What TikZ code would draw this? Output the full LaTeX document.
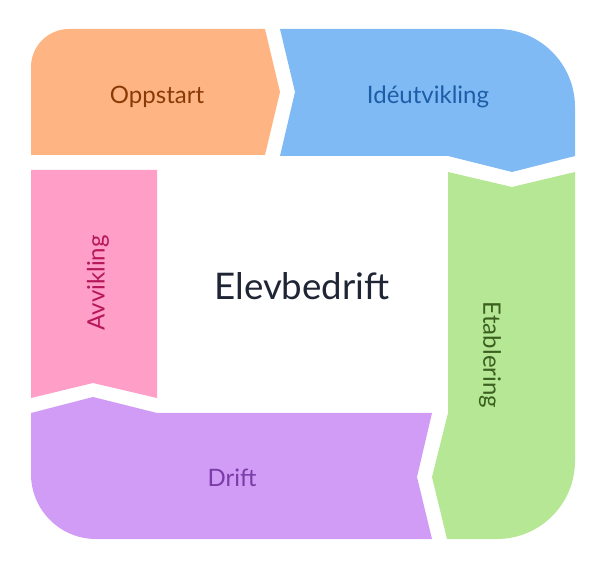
\documentclass[tikz,border=0pt]{standalone}
\usepackage{fontspec}
\setmainfont{Lato}
\usepackage{xcolor}
\definecolor{oppfill}{HTML}{FFB583}
\definecolor{oppText}{HTML}{8A3A05}
\definecolor{ideFill}{HTML}{80BAF4}
\definecolor{ideText}{HTML}{1C5DA8}
\definecolor{etaFill}{HTML}{B5E795}
\definecolor{etaText}{HTML}{3A5F1F}
\definecolor{drfFill}{HTML}{D09CF5}
\definecolor{drfText}{HTML}{7B3BA8}
\definecolor{avvFill}{HTML}{FF9EC6}
\definecolor{avvText}{HTML}{B5175A}
\definecolor{midText}{HTML}{1F2535}
\usepackage{tikz}

\begin{document}
\begin{tikzpicture}[x=0.75pt, y=-0.75pt]

  \tikzstyle{phaselabel} = [
    inner sep=0pt,
    font=\fontsize{18}{21}\selectfont
  ]

  \useasboundingbox (0,0) rectangle (604,570);

  \fill[oppfill] (31,155) -- (31,67) .. controls (31,46) and (48,29) .. (69,29)
    -- (265,29) -- (280,92) -- (265,155) -- cycle;

  \fill[ideFill] (280,29) -- (497,29) .. controls (540,29) and (575,64) .. (575,107)
    -- (575,156) -- (512,172) -- (448,156) -- (280,156) -- (295,92) -- cycle;

  \fill[etaFill] (448,172) -- (512,187) -- (575,172) -- (575,461)
    .. controls (575,504) and (540,539) .. (497,539)
    -- (447,539) -- (432,477) -- (448,413) -- cycle;

  \fill[drfFill] (31,413) -- (93,397) -- (157,413) -- (432,413) -- (417,477)
    -- (432,539) -- (96,539) .. controls (60,539) and (31,510) .. (31,474) -- cycle;

  \fill[avvFill] (31,170) -- (157,170) -- (157,398) -- (93,383) -- (31,398) -- cycle;

  \node[phaselabel, text=oppText] (oppstart) at (157,97) {Oppstart};
  \node[phaselabel, text=ideText] (ideutv) at (428,97) {Idéutvikling};
  \node[phaselabel, text=etaText, rotate=-90] (etablering) at (490,355) {Etablering};
  \node[phaselabel, text=drfText] (drift) at (232,478) {Drift};
  \node[phaselabel, text=avvText, rotate=90] (avvikling) at (98,283) {Avvikling};

  \node[inner sep=0pt, text=midText, font=\fontsize{27.5}{33}\selectfont] (elev)
    at (302,286) {Elevbedrift};

\end{tikzpicture}
\end{document}
